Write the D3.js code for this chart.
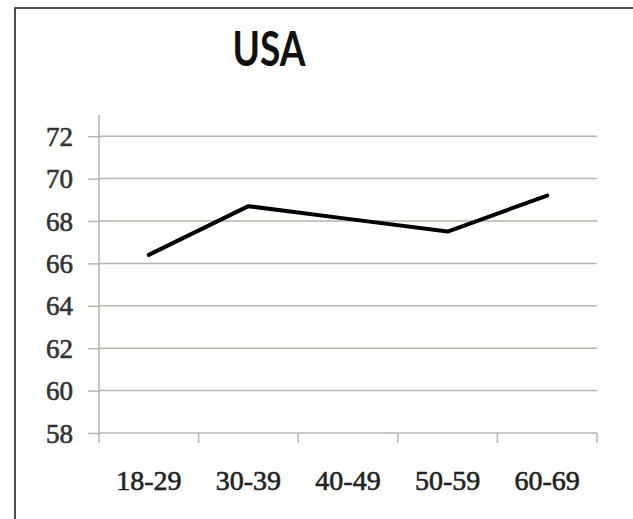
<!DOCTYPE html>
<html><head><meta charset="utf-8">
<script src="https://cdn.jsdelivr.net/npm/d3@7"></script>
<style>body{margin:0;background:#fff}svg{display:block}</style>
</head><body>
<svg id="chart" width="633" height="519"></svg>
<script>
const title = "USA";
const categories = ["18-29","30-39","40-49","50-59","60-69"];
const values = [66.4, 68.7, 68.1, 67.5, 69.2];
const yTicks = [58,60,62,64,66,68,70,72];
const yDomain = [58, 73];

(function(){
const svg = d3.select("#chart");
const pL = 99, pR = 597, pT = 115, pB = 433;
const gridColor = "#bcb3ab";
const labelFont = "'Liberation Serif', serif";

svg.append("rect").attr("x",15).attr("y",8).attr("width",640).attr("height",540)
  .attr("fill","#fff").attr("stroke","#222").attr("stroke-width",1.6);

svg.append("text").attr("x",269).attr("y",66).attr("text-anchor","middle")
  .attr("font-family","Lato, 'Open Sans', sans-serif").attr("font-weight","bold")
  .attr("font-size",47).attr("textLength",73).attr("lengthAdjust","spacingAndGlyphs")
  .attr("fill","#111").text(title);

const x = d3.scaleBand().domain(categories).range([pL,pR]);
const y = d3.scaleLinear().domain(yDomain).range([pB,pT]);

svg.append("g").selectAll("line").data(yTicks.filter(t=>t!==yDomain[0])).join("line")
  .attr("x1",pL).attr("x2",pR).attr("y1",d=>y(d)).attr("y2",d=>y(d))
  .attr("stroke",gridColor).attr("stroke-width",1.5);

const yAxis = svg.append("g").attr("transform",`translate(${pL},0)`)
  .call(d3.axisLeft(y).tickValues(yTicks).tickSize(11).tickPadding(15).tickFormat(d3.format("d")));
yAxis.select(".domain").attr("stroke",gridColor).attr("stroke-width",1.5).attr("d",`M0,${pT}V${pB}`);
yAxis.selectAll(".tick line").attr("stroke",gridColor).attr("stroke-width",1.5);
yAxis.selectAll("text").attr("font-family",labelFont).attr("font-size",27)
  .attr("fill","#333").attr("stroke","#333").attr("stroke-width",0.6).attr("dy","0.34em");

const xAxis = svg.append("g").attr("transform",`translate(0,${pB})`)
  .call(d3.axisBottom(x).tickSize(0).tickPadding(37));
xAxis.select(".domain").attr("stroke",gridColor).attr("stroke-width",1.5).attr("d",`M${pL},0H${pR}`);
xAxis.selectAll("text").attr("font-family",labelFont).attr("font-size",28)
  .attr("fill","#222").attr("stroke","#222").attr("stroke-width",0.6);
const boundaries = categories.map(c=>x(c)).concat([pR]);
svg.append("g").selectAll("line").data(boundaries).join("line")
  .attr("x1",d=>d).attr("x2",d=>d).attr("y1",pB).attr("y2",pB+10)
  .attr("stroke",gridColor).attr("stroke-width",1.5);

const line = d3.line().x((d,i)=>x(categories[i])+x.bandwidth()/2).y(d=>y(d));
svg.append("path").datum(values).attr("d",line).attr("fill","none")
  .attr("stroke","#000").attr("stroke-width",4).attr("stroke-linejoin","round").attr("stroke-linecap","round");
})();
</script>
</body></html>
